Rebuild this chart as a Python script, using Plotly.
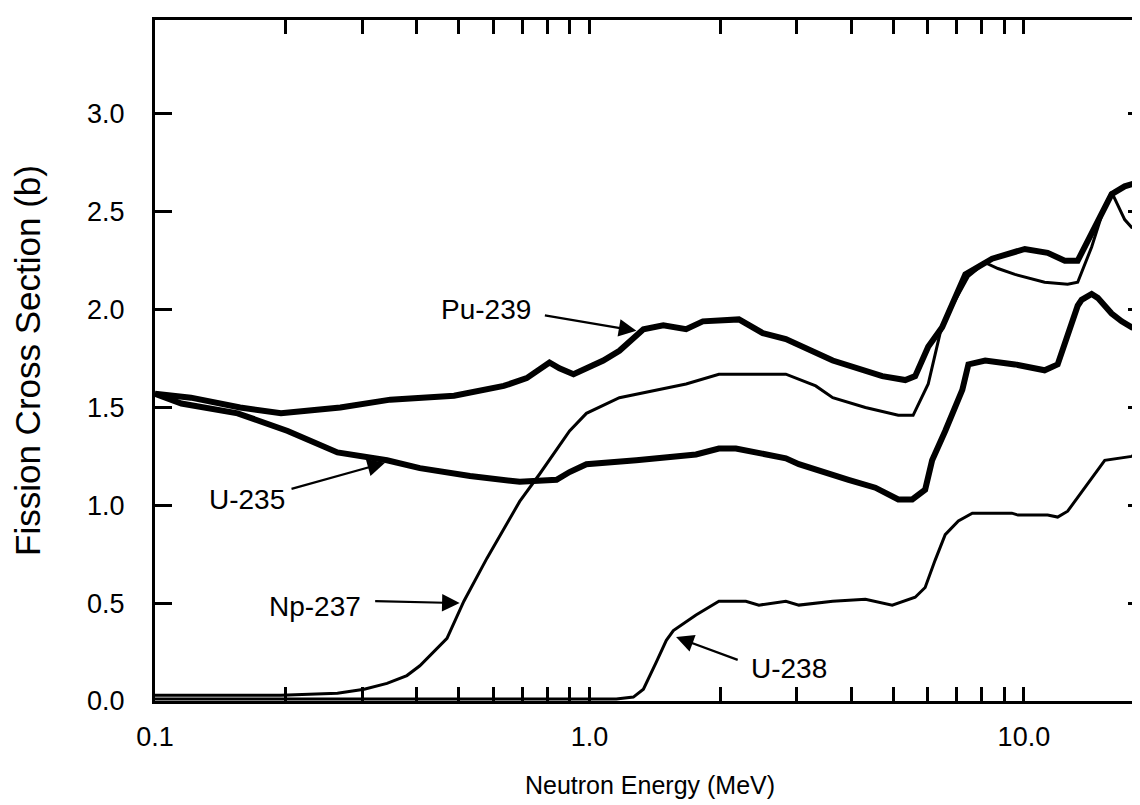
import plotly.graph_objects as go
import math

# ---------------- data ----------------
pu239_e = [0.100, 0.121, 0.157, 0.195, 0.267, 0.348, 0.488, 0.635, 0.717, 0.809, 0.853, 0.919,
           1.076, 1.172, 1.331, 1.479, 1.669, 1.824, 2.208, 2.506, 2.832, 3.631, 4.721, 5.333,
           5.620, 6.022, 6.484, 6.840, 7.333, 8.451, 10.05, 11.34, 12.42, 13.30, 14.32, 15.92,
           17.06, 18.97]
pu239_s = [1.57, 1.55, 1.50, 1.47, 1.50, 1.54, 1.56, 1.61, 1.65, 1.73, 1.70, 1.67,
           1.74, 1.79, 1.90, 1.92, 1.90, 1.94, 1.95, 1.88, 1.85, 1.74, 1.66, 1.64,
           1.66, 1.81, 1.91, 2.02, 2.18, 2.26, 2.31, 2.29, 2.25, 2.25, 2.39, 2.59,
           2.63, 2.66]

u235_e = [0.100, 0.115, 0.155, 0.202, 0.263, 0.342, 0.407, 0.531, 0.691, 0.840, 0.900, 0.984,
          1.282, 1.759, 1.986, 2.173, 2.832, 3.034, 3.948, 4.550, 5.139, 5.533, 5.925, 6.149,
          6.590, 7.215, 7.452, 8.147, 9.535, 11.16, 11.96, 12.61, 13.30, 13.58, 14.32, 14.79,
          15.92, 16.79, 17.70, 18.97]
u235_s = [1.57, 1.52, 1.47, 1.38, 1.27, 1.23, 1.19, 1.15, 1.12, 1.13, 1.17, 1.21,
          1.23, 1.26, 1.29, 1.29, 1.24, 1.21, 1.13, 1.09, 1.03, 1.03, 1.08, 1.23,
          1.38, 1.59, 1.72, 1.74, 1.72, 1.69, 1.72, 1.86, 2.02, 2.05, 2.08, 2.06,
          1.98, 1.94, 1.91, 1.93]

np237_e = [0.100, 0.195, 0.263, 0.303, 0.342, 0.380, 0.407, 0.470, 0.514, 0.581, 0.691, 0.768,
           0.900, 0.984, 1.172, 1.669, 1.986, 2.832, 3.318, 3.631, 4.317, 5.139, 5.559, 6.022,
           6.415, 6.840, 7.452, 8.147, 8.716, 9.535, 11.16, 12.61, 13.30, 14.32, 15.35, 15.92,
           17.06, 17.70, 18.97]
np237_s = [0.03, 0.03, 0.04, 0.06, 0.09, 0.13, 0.18, 0.32, 0.51, 0.73, 1.02, 1.16,
           1.38, 1.47, 1.55, 1.62, 1.67, 1.67, 1.61, 1.55, 1.50, 1.46, 1.46, 1.62,
           1.88, 2.02, 2.17, 2.24, 2.21, 2.18, 2.14, 2.13, 2.14, 2.32, 2.53, 2.60,
           2.46, 2.42, 2.40]

u238_e = [0.100, 1.153, 1.262, 1.331, 1.426, 1.503, 1.560, 1.585, 1.759, 1.986, 2.291, 2.455,
          2.832, 3.034, 3.631, 4.317, 4.977, 5.620, 5.925, 6.248, 6.590, 7.066, 7.608, 9.381,
          9.692, 11.34, 11.96, 12.61, 13.80, 15.35, 17.70, 18.97]
u238_s = [0.01, 0.01, 0.02, 0.06, 0.20, 0.31, 0.36, 0.37, 0.44, 0.51, 0.51, 0.49,
          0.51, 0.49, 0.51, 0.52, 0.49, 0.53, 0.58, 0.72, 0.85, 0.92, 0.96, 0.96,
          0.95, 0.95, 0.94, 0.97, 1.09, 1.23, 1.25, 1.30]

y_ticks = [0.0, 0.5, 1.0, 1.5, 2.0, 2.5, 3.0]
x_major = {0.1: "0.1", 1.0: "1.0", 10.0: "10.0"}

# ---------------- figure ----------------
FONT = "Liberation Sans, Arial, Helvetica, sans-serif"
fig = go.Figure()

series = [
    ("Pu-239", pu239_e, pu239_s, 6),
    ("U-235", u235_e, u235_s, 6),
    ("Np-237", np237_e, np237_s, 3),
    ("U-238", u238_e, u238_s, 3),
]
for name, e, s, w in series:
    fig.add_trace(go.Scatter(x=e, y=s, mode="lines", name=name,
                             line=dict(color="black", width=w), showlegend=False))

# log-axis tick positions (1..9 per decade)
tickvals = [m * 10 ** k for k in (-1, 0) for m in range(1, 10)] + [10.0, 20.0]
ticktext = [x_major.get(round(v, 6), "") for v in tickvals]

fig.update_xaxes(
    type="log", range=[-1, math.log10(19.0)],
    tickvals=tickvals, ticktext=ticktext,
    ticks="inside", ticklen=14, tickwidth=2.5, tickcolor="black",
    showline=True, linewidth=3, linecolor="black", mirror="allticks",
    showgrid=False, zeroline=False,
    tickfont=dict(family=FONT, size=27, color="black"),
    ticklabelstandoff=10,
    title=dict(text="Neutron Energy (MeV)", font=dict(family=FONT, size=25, color="black"),
               standoff=26),
)
fig.update_yaxes(
    range=[0, 3.48],
    tickvals=y_ticks, ticktext=[f"{v:.1f}" for v in y_ticks],
    ticks="inside", ticklen=17, tickwidth=2.5, tickcolor="black",
    showline=True, linewidth=3, linecolor="black", mirror="allticks",
    showgrid=False, zeroline=False,
    tickfont=dict(family=FONT, size=27, color="black"),
    ticklabelstandoff=22,
    title=dict(text="Fission Cross Section (b)", font=dict(family=FONT, size=35, color="black"),
               standoff=40),
)

# ---------------- labels with arrows ----------------
labels = [
    # text, tip energy, tip value, text center offset (px), arrow tail offset (px)
    ("Pu-239", 1.296, 1.89, (-152, -22), (-95, -16)),
    ("U-235", 0.342, 1.22, (-140, 37), (-97, 27)),
    ("Np-237", 0.508, 0.50, (-147, 3), (-88, -2)),
    ("U-238", 1.567, 0.33, (115, 32), (65, 24)),
]
for text, te, tv, (tx, ty), (ax, ay) in labels:
    fig.add_annotation(x=math.log10(te), y=tv, xref="x", yref="y", text="",
                       showarrow=True, ax=ax, ay=ay, axref="pixel", ayref="pixel",
                       arrowhead=2, arrowsize=1.6, arrowwidth=2.2, arrowcolor="black",
                       standoff=2)
    fig.add_annotation(x=math.log10(te), y=tv, xref="x", yref="y", text=text,
                       showarrow=True, ax=tx, ay=ty, axref="pixel", ayref="pixel",
                       arrowwidth=0.1, arrowcolor="rgba(0,0,0,0)",
                       font=dict(family=FONT, size=28, color="black"))

fig.update_layout(
    width=1140, height=805,
    margin=dict(l=147, r=0, t=12, b=112),
    paper_bgcolor="white", plot_bgcolor="white",
    showlegend=False,
)

fig.write_html("out.html")
